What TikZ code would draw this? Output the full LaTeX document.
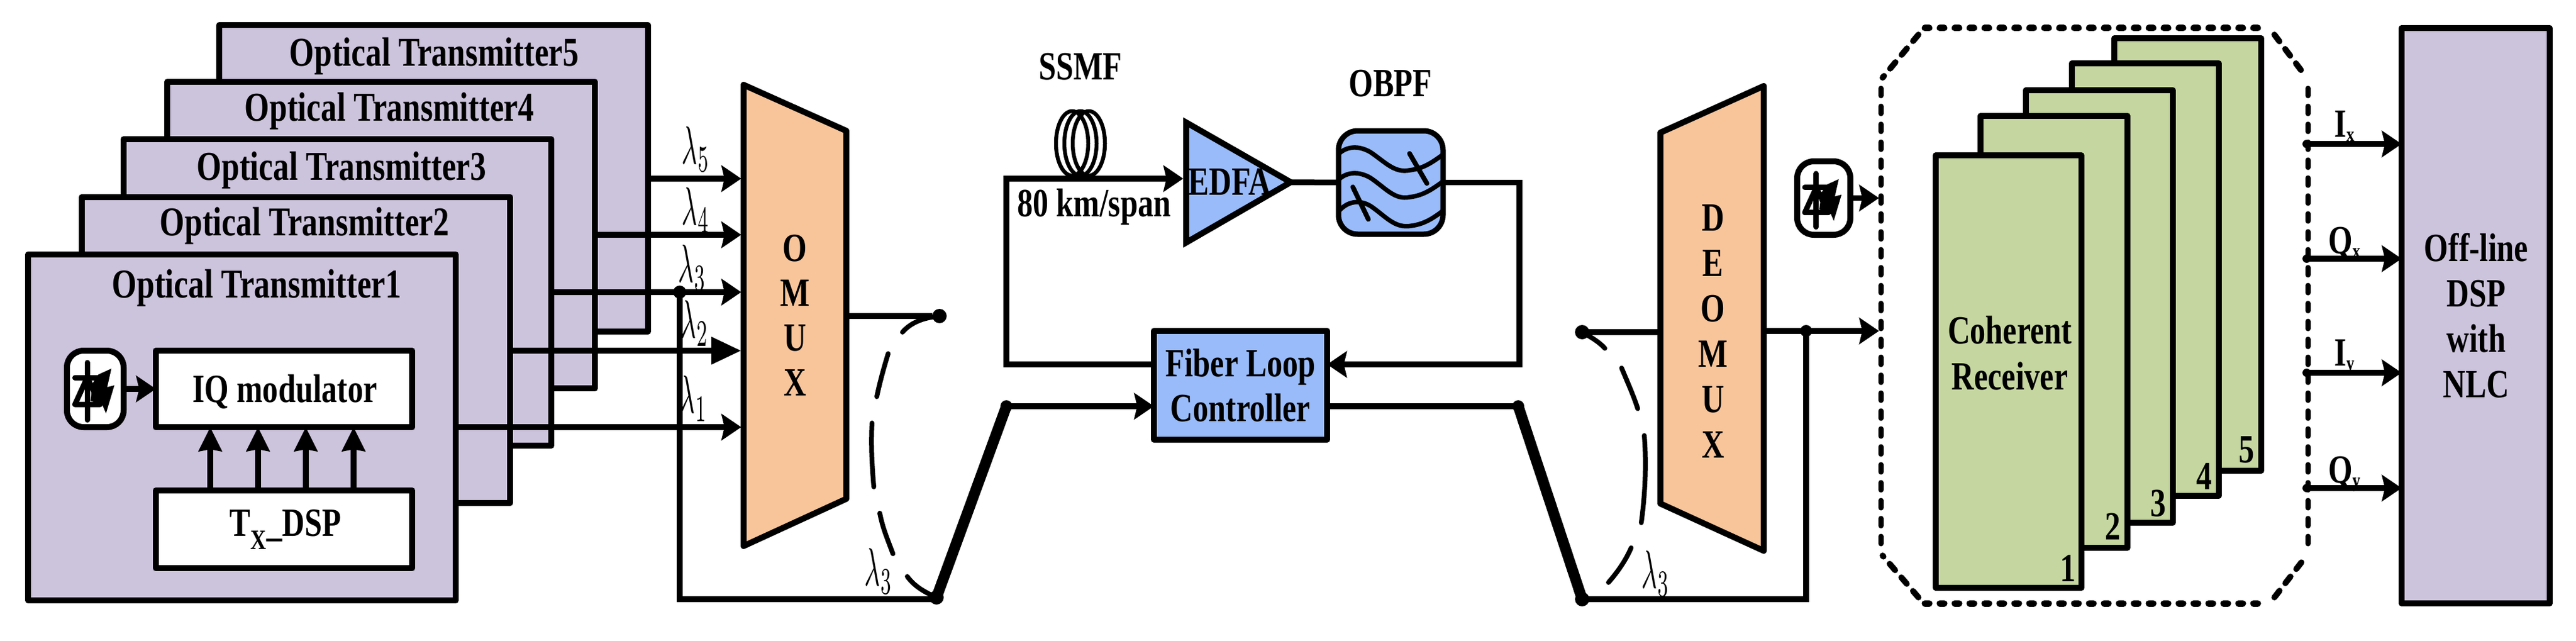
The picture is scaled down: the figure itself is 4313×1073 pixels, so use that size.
\documentclass[tikz,border=0pt]{standalone}
\usepackage{fontspec}
\usepackage{graphicx}
\setmainfont{Liberation Serif}[FakeStretch=0.78]
\usetikzlibrary{arrows.meta}
\definecolor{lav}{RGB}{204,195,220}
\definecolor{peach}{RGB}{248,197,155}
\definecolor{sky}{RGB}{153,187,250}
\definecolor{leaf}{RGB}{197,214,160}
\newcommand{\boxnode}[6]{\node[box,#2,minimum width={#5-#3},minimum height={#6-#4}] (#1) at ({(#3+#5)/2},{(#4+#6)/2}) {};}
\newcommand{\lam}[1]{\scalebox{4.5}[9]{\fontsize{10}{12}\selectfont$\lambda_{#1}$}}
\newcommand{\smallsub}[1]{\raisebox{-7pt}{\fontsize{34}{34}\selectfont\bfseries #1}}
\tikzset{
  x=1pt,y=-1pt,
  box/.style={draw=black,line width=10pt,line join=round,inner sep=0pt,outer sep=0pt,rectangle},
  lab/.style={font=\fontsize{67}{75}\selectfont\bfseries,inner sep=0pt,outer sep=0pt,align=center},
  tlab/.style={font=\fontsize{68.5}{75}\selectfont\bfseries,inner sep=0pt,outer sep=0pt,align=center},
  sub/.style={inner sep=0pt,outer sep=0pt},
  wire/.style={draw=black,line width=9.5pt,line join=miter},
  arr/.style={wire,-{Stealth[length=33pt,width=44pt,inset=5pt]}},
  arrbig/.style={wire,-{Stealth[length=50pt,width=44pt,inset=0pt]}},
  arrup/.style={wire,-{Stealth[length=40pt,width=38pt,inset=3pt]}},
  port/.style={circle,fill=black,inner sep=0pt,outer sep=0pt,minimum size=24pt},
  tinyport/.style={circle,fill=black,inner sep=0pt,outer sep=0pt,minimum size=14pt},
  dashseg/.style={draw=black,line width=8pt,line cap=round},
  thick arm/.style={draw=black,line width=18pt,line cap=round},
  hdash/.style={draw=black,line width=11pt,line cap=round,dash pattern=on 7pt off 18pt},
  vdash/.style={draw=black,line width=9pt,line cap=round,dash pattern=on 12pt off 18pt},
  ddash/.style={draw=black,line width=10pt,line cap=round,dash pattern=on 14pt off 16pt},
  laserbox/.style={draw=black,line width=10pt,fill=white,rectangle,rounded corners=28pt,inner sep=0pt,outer sep=0pt},
  laser/.pic={
    \draw[line width=9pt,line cap=round] (-13.5,-44) -- (-13.5,52);
    \draw[line width=9pt,line cap=round] (-34,-19) -- (4,-19);
    \draw[line width=9pt,line join=round] (-34,26) -- (-13.5,-19) -- (8,26) -- cycle;
    \fill (5,-24) -- (27,-34) -- (20,-3) -- (32,-6) -- (18,41) -- (12,27) -- (-8,20) -- (-4,-10) -- cycle;
  }
}
\begin{document}
\begin{tikzpicture}
\useasboundingbox (0,0) rectangle (4313,1073);
% transmitters
\boxnode{t5}{fill=lav}{367}{42}{1085}{555}
\boxnode{t4}{fill=lav}{280}{137}{996}{650}
\boxnode{t3}{fill=lav}{207}{233}{923}{746}
\boxnode{t2}{fill=lav}{137}{330}{854}{842}
\boxnode{t1}{fill=lav}{47}{426}{763}{1005}
\node[tlab] (lt5) at (727,94) {Optical Transmitter5};
\node[tlab] (lt4) at (652,186) {Optical Transmitter4};
\node[tlab] (lt3) at (572,285) {Optical Transmitter3};
\node[tlab] (lt2) at (510,378) {Optical Transmitter2};
\node[tlab] (lt1) at (430,482) {Optical Transmitter1};
\boxnode{iq}{fill=white}{261}{587}{690}{715}
\boxnode{dsp}{fill=white}{261}{821}{690}{951}
\node[lab] (liq) at (477,656) {IQ modulator};
\node[lab] (ldsp) at (478,886) {T\textsubscript{X}\_DSP};
\node[laserbox,minimum width=95pt,minimum height=128pt] (las1) at (159.5,651) {};
\pic at (las1.center) {laser};
\draw[arr] (las1.east |- iq.west) -- (iq.west);
\foreach \xx/\nn in {352/a,432/b,512/c,592/d}{
  \coordinate (up\nn) at (\xx,715);
  \draw[arrup] (up\nn |- dsp.north) -- (up\nn);
}
% multiplexer
\draw[draw=black,line width=10pt,fill=peach,line join=round] (1245,142) coordinate (muxa) -- (1417,219) -- (1417,835) -- (1245,914) -- cycle;
\node[lab] (mux) at (1331,528) {O\\M\\U\\X};
\coordinate (m5) at (1241,299);
\coordinate (m4) at (1241,393);
\coordinate (m3) at (1241,489);
\coordinate (m2) at (1241,587);
\coordinate (m1) at (1241,715);
\draw[arr] (t5.east |- m5) -- (m5);
\draw[arr] (t4.east |- m4) -- (m4);
\draw[arr] (t3.east |- m3) -- (m3);
\draw[arrbig] (t2.east |- m2) -- (m2);
\draw[arr] (t1.east |- m1) -- (m1);
\node[sub] (l5) at (1165,250) {\lam{5}};
\node[sub] (l4) at (1165,352) {\lam{4}};
\node[sub] (l3) at (1159,448) {\lam{3}};
\node[sub] (l2) at (1163,541) {\lam{2}};
\node[sub] (l1) at (1161,667) {\lam{1}};
\node[port,minimum size=22pt] (tap1) at (1138,489) {};
% loop switches
\node[port] (swa) at (1573,529) {};
\node[port,minimum size=24pt] (swb) at (1568,1000) {};
\node[port,minimum size=20pt] (swc) at (1685,680) {};
\draw[wire] (1417,529) -- (swa);
\draw[wire] (tap1.center) -- (1138,1003) -- (1568,1003);
\draw[thick arm] (swb.center) -- (swc.center);
\draw[dashseg] (swa.center) .. controls (1545,532) and (1525,540) .. (1511,556);
\draw[dashseg] (1487,592) .. controls (1480,615) and (1473,640) .. (1468,664);
\draw[dashseg] (1460,708) .. controls (1458,745) and (1460,780) .. (1463,815);
\draw[dashseg] (1473,859) .. controls (1478,885) and (1487,905) .. (1495,927);
\draw[dashseg] (1519,965) .. controls (1530,980) and (1545,990) .. (swb.center);
\node[sub] (l3a) at (1471,956) {\lam{3}};
% span
\boxnode{flc}{fill=sky}{1932}{554}{2222}{736}
\node[lab] (lflc) at (2077,645) {Fiber Loop\\Controller};
\coordinate (edin) at (1981,299);
\foreach \dd in {-14,0,14}{
  \draw[line width=6.5pt] ({1809+\dd},240) ellipse (27 and 54);
}
\draw[arr] (flc.west |- 0,610) -- (1685,610) -- (1685,299) -- (edin);
\draw[arr] (swc.center) -- (flc.west |- swc.center);
\draw[draw=black,line width=10pt,fill=sky,line join=miter] (1986,205) -- (2161,305) coordinate (edout) -- (1986,406) -- cycle;
\node[lab] (ledfa) at (2059,304) {EDFA};
\node[lab] (lssmf) at (1809,112) {SSMF};
\node[lab] (lobpf) at (2328,140) {OBPF};
\node[lab] (lspan) at (1832,346) {80 km/span};
\node[draw=black,line width=9pt,fill=sky,rectangle,rounded corners=32pt,minimum width=175pt,minimum height=173pt,inner sep=0pt,outer sep=0pt] (obpf) at (2328.5,305.5) {};
\begin{scope}[line width=7.5pt]
\draw (2242,257) .. controls (2255,245) and (2275,243) .. (2295,255) .. controls (2320,272) and (2335,290) .. (2360,285) .. controls (2385,282) and (2400,270) .. (2417,258);
\draw (2242,300) .. controls (2255,288) and (2275,286) .. (2295,298) .. controls (2320,315) and (2335,335) .. (2360,330) .. controls (2385,327) and (2400,315) .. (2417,303);
\draw (2242,353) .. controls (2255,338) and (2275,333) .. (2295,345) .. controls (2320,362) and (2335,383) .. (2363,378) .. controls (2385,375) and (2400,365) .. (2417,352);
\end{scope}
\draw[line width=8pt,line cap=round] (2360,257) -- (2389,307);
\draw[line width=8pt,line cap=round] (2265,313) -- (2291,367);
\draw[wire] (edout) -- (obpf.west);
\draw[arr] (obpf.east) -- (2544,305.5) -- (2544,610) -- (flc.east |- 0,610);
% demux side
\node[port,minimum size=20pt] (swd) at (2542,680) {};
\node[port] (swe) at (2649,1003) {};
\node[port] (swf) at (2649,556) {};
\draw[wire] (flc.east |- swd) -- (swd.center);
\draw[thick arm] (swd.center) -- (swe.center);
\draw[dashseg] (swf.center) .. controls (2665,565) and (2678,573) .. (2687,583);
\draw[dashseg] (2715,616) .. controls (2725,640) and (2735,662) .. (2742,684);
\draw[dashseg] (2753,729) .. controls (2757,780) and (2754,830) .. (2748,875);
\draw[dashseg] (2731,917) .. controls (2722,938) and (2708,958) .. (2693,975);
\node[sub] (l3b) at (2772,960) {\lam{3}};
\draw[draw=black,line width=10pt,fill=peach,line join=round] (2780,222) -- (2953,144) -- (2953,922) -- (2780,843) -- cycle;
\node[lab,font=\fontsize{67}{76}\selectfont\bfseries] (demux) at (2868,555) {D\\E\\O\\M\\U\\X};
\draw[wire] (2780,556) -- (swf.center);
\node[tinyport,minimum size=20pt] (tap2) at (3024,554) {};
\coordinate (rxin) at (3146,554);
\draw[arr] (2953,554) -- (rxin);
\draw[wire] (tap2.center) -- (3024,1003) -- (swe.center);
\node[laserbox,minimum width=89pt,minimum height=123pt] (las2) at (3053.5,331.5) {};
\pic[scale=0.93] at (las2.center) {laser};
\coordinate (rxlo) at (3146,331.5);
\draw[arr] (las2.east) -- (rxlo);
% receiver enclosure
\draw[hdash] (3223,47) -- (3797,47);
\draw[hdash] (3223,1010) -- (3797,1010);
\draw[vdash] (3149,148) -- (3149,915);
\draw[vdash] (3864,148) -- (3864,915);
\draw[ddash] (3212,58) -- (3152,130);
\draw[ddash] (3808,58) -- (3862,130);
\draw[ddash] (3212,1000) -- (3152,930);
\draw[ddash] (3808,1000) -- (3862,930);
\boxnode{r5}{fill=leaf}{3540}{64}{3786}{788}
\boxnode{r4}{fill=leaf}{3469}{106}{3715}{830}
\boxnode{r3}{fill=leaf}{3392}{151}{3638}{875}
\boxnode{r2}{fill=leaf}{3316}{194}{3562}{917}
\boxnode{r1}{fill=leaf}{3241}{260}{3485}{984}
\node[lab,font=\fontsize{67}{77}\selectfont\bfseries] (lrx) at (3365,591) {Coherent\\Receiver};
\node[lab] (n1) at (3463,951) {1};
\node[lab] (n2) at (3538,881) {2};
\node[lab] (n3) at (3614,843) {3};
\node[lab] (n4) at (3691,797) {4};
\node[lab] (n5) at (3762,753) {5};
% off-line DSP
\boxnode{off}{fill=lav}{4021}{47}{4269}{1010}
\node[lab,font=\fontsize{67}{76}\selectfont\bfseries] (loff) at (4146,528) {Off-line\\DSP\\with\\NLC};
\foreach \yy/\nn in {241/a,433/b,624/c,817/d}{
  \node[tinyport] (o\nn) at (3862,\yy) {};
  \draw[arr] (o\nn.center) -- (off.west |- o\nn);
}
\node[lab,anchor=base] (lix) at (3925,229) {I\smallsub{x}};
\node[lab,anchor=base] (lqx) at (3925,424) {Q\smallsub{x}};
\node[lab,anchor=base] (liy) at (3925,612) {I\smallsub{y}};
\node[lab,anchor=base] (lqy) at (3925,808) {Q\smallsub{y}};
\end{tikzpicture}
\end{document}
